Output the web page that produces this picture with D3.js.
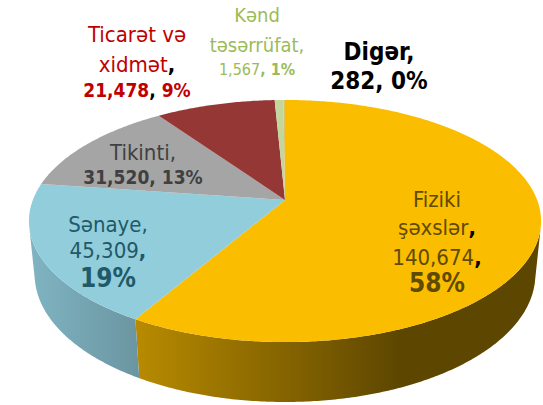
<!DOCTYPE html>
<html>
<head>
<meta charset="utf-8">
<script src="https://cdn.jsdelivr.net/npm/d3@7"></script>
<style>
  body { margin: 0; background: #fff; }
  svg { display: block; font-family: "DejaVu Sans Condensed", "DejaVu Sans", sans-serif; }
</style>
</head>
<body>
<script>
// datos del gráfico
const categories = ["Fiziki şəxslər", "Sənaye", "Tikinti", "Ticarət və xidmət", "Kənd təsərrüfat", "Digər"];
const values = [140674, 45309, 31520, 21478, 1567, 282];
const sliceColors = ["#FBBD00", "#92CDDC", "#A5A5A5", "#953735", "#C3D69B", "#E0C060"];
const labelColors = ["#5E4B00", "#215968", "#404040", "#C00000", "#9BBB59", "#000000"];

const width = 543, height = 405;

// proyección de un disco 3D con perspectiva
const k = 5.1, phi = 27.75 * Math.PI / 180;
const s = Math.sin(phi), c = Math.cos(phi);
const f = 1286, cx = 285, cy = 200, h = 0.242;

function project(theta, r, y) {
  const x = r * Math.sin(theta), z = -r * Math.cos(theta);
  const depth = k - (y * s + z * c);
  return [cx + f * x / depth, cy + f * (z * s - y * c) / depth];
}

function arcPoints(a0, a1, y) {
  const n = Math.max(2, Math.ceil((a1 - a0) / 0.01));
  return d3.range(n + 1).map(i => project(a0 + (a1 - a0) * i / n, 1, y));
}

const pie = d3.pie().sort(null).value(d => d)(values);
const total = d3.sum(values);
const fmtV = d3.format(",");
const fmtP = d3.format(".0%");

const svg = d3.select("body").append("svg")
  .attr("width", width)
  .attr("height", height);

// degradados de las paredes laterales
const defs = svg.append("defs");
sliceColors.forEach((col, i) => {
  const base = d3.rgb(col);
  const g = defs.append("linearGradient")
    .attr("id", `side-${i}`)
    .attr("gradientUnits", "userSpaceOnUse")
    .attr("x1", 30).attr("x2", 400).attr("y1", 0).attr("y2", 0);
  [[0, 0.88], [1, 0.37]].forEach(([o, m]) => {
    g.append("stop").attr("offset", o)
      .attr("stop-color", d3.rgb(base.r * m, base.g * m, base.b * m));
  });
});

// parte visible de la pared: cos(theta) < -1/(k c)
const limit = Math.acos(-1 / (k * c));
const visA = limit, visB = 2 * Math.PI - limit;

const line = d3.line();

svg.append("g").selectAll("path")
  .data(pie.filter(d => d.endAngle > visA && d.startAngle < visB))
  .join("path")
    .attr("fill", d => `url(#side-${d.index})`)
    .attr("d", d => {
      const a0 = Math.max(d.startAngle, visA), a1 = Math.min(d.endAngle, visB);
      const top = arcPoints(a0, a1, 0);
      const bottom = arcPoints(a0, a1, -h).reverse();
      return line(top.concat(bottom)) + "Z";
    });

svg.append("g").selectAll("path")
  .data(pie)
  .join("path")
    .attr("fill", d => sliceColors[d.index])
    .attr("d", d => line([project(0, 0, 0)].concat(arcPoints(d.startAngle, d.endAngle, 0))) + "Z");

// etiquetas
const nameLines = [["Fiziki", "şəxslər"], ["Sənaye"], ["Tikinti"], ["Ticarət və", "xidmət"], ["Kənd", "təsərrüfat"], ["Digər"]];

// [parte, negrita, color, tamaño]
const labelFormat = [
  [[["n0"]], [["n1"], [",", 1, "#000"]], [["v"], [",", 1, "#000"]], [["p", 1, null, 26]]],
  [[["n0"], [","]], [["v"], [",", 1]], [["p", 1, null, 26]]],
  [[["n0"], [","]], [["v", 1, null, 19], [", ", 1, null, 19], ["p", 1, null, 19]]],
  [[["n0"]], [["n1"], [",", 1, "#000"]], [["v", 1, null, 19], [", ", 1, "#000", 19], ["p", 1, null, 19]]],
  [[["n0"]], [["n1"], [","]], [["v", 0, null, 16], [", ", 1, null, 16], ["p", 1, null, 16]]],
  [[["n0", 1], [",", 1]], [["v", 1], [", ", 1], ["p", 1]]]
];
const labelSize = [22, 22, 22, 22, 20, 24];
const labelPos = [
  [437, [207, 235, 265, 292]],
  [108, [232, 258, 287]],
  [143, [160, 184]],
  [137, [42, 72, 97]],
  [257, [22, 52, 75]],
  [379, [60, 89]]
];

const labels = svg.append("g").attr("text-anchor", "middle");
pie.forEach((d, i) => {
  const [lx, ys] = labelPos[i];
  labelFormat[i].forEach((segs, j) => {
    const t = labels.append("text")
      .attr("x", lx)
      .attr("y", ys[j])
      .attr("fill", labelColors[i])
      .attr("font-size", labelSize[i]);
    segs.forEach(([part, bold, col, size]) => {
      let txt = part;
      if (part === "n0") txt = nameLines[i][0];
      else if (part === "n1") txt = nameLines[i][1];
      else if (part === "v") txt = fmtV(values[i]);
      else if (part === "p") txt = fmtP(values[i] / total);
      const ts = t.append("tspan").text(txt);
      if (bold) ts.attr("font-weight", "bold");
      if (col) ts.attr("fill", col);
      if (size) ts.attr("font-size", size);
    });
  });
});
</script>
</body>
</html>
